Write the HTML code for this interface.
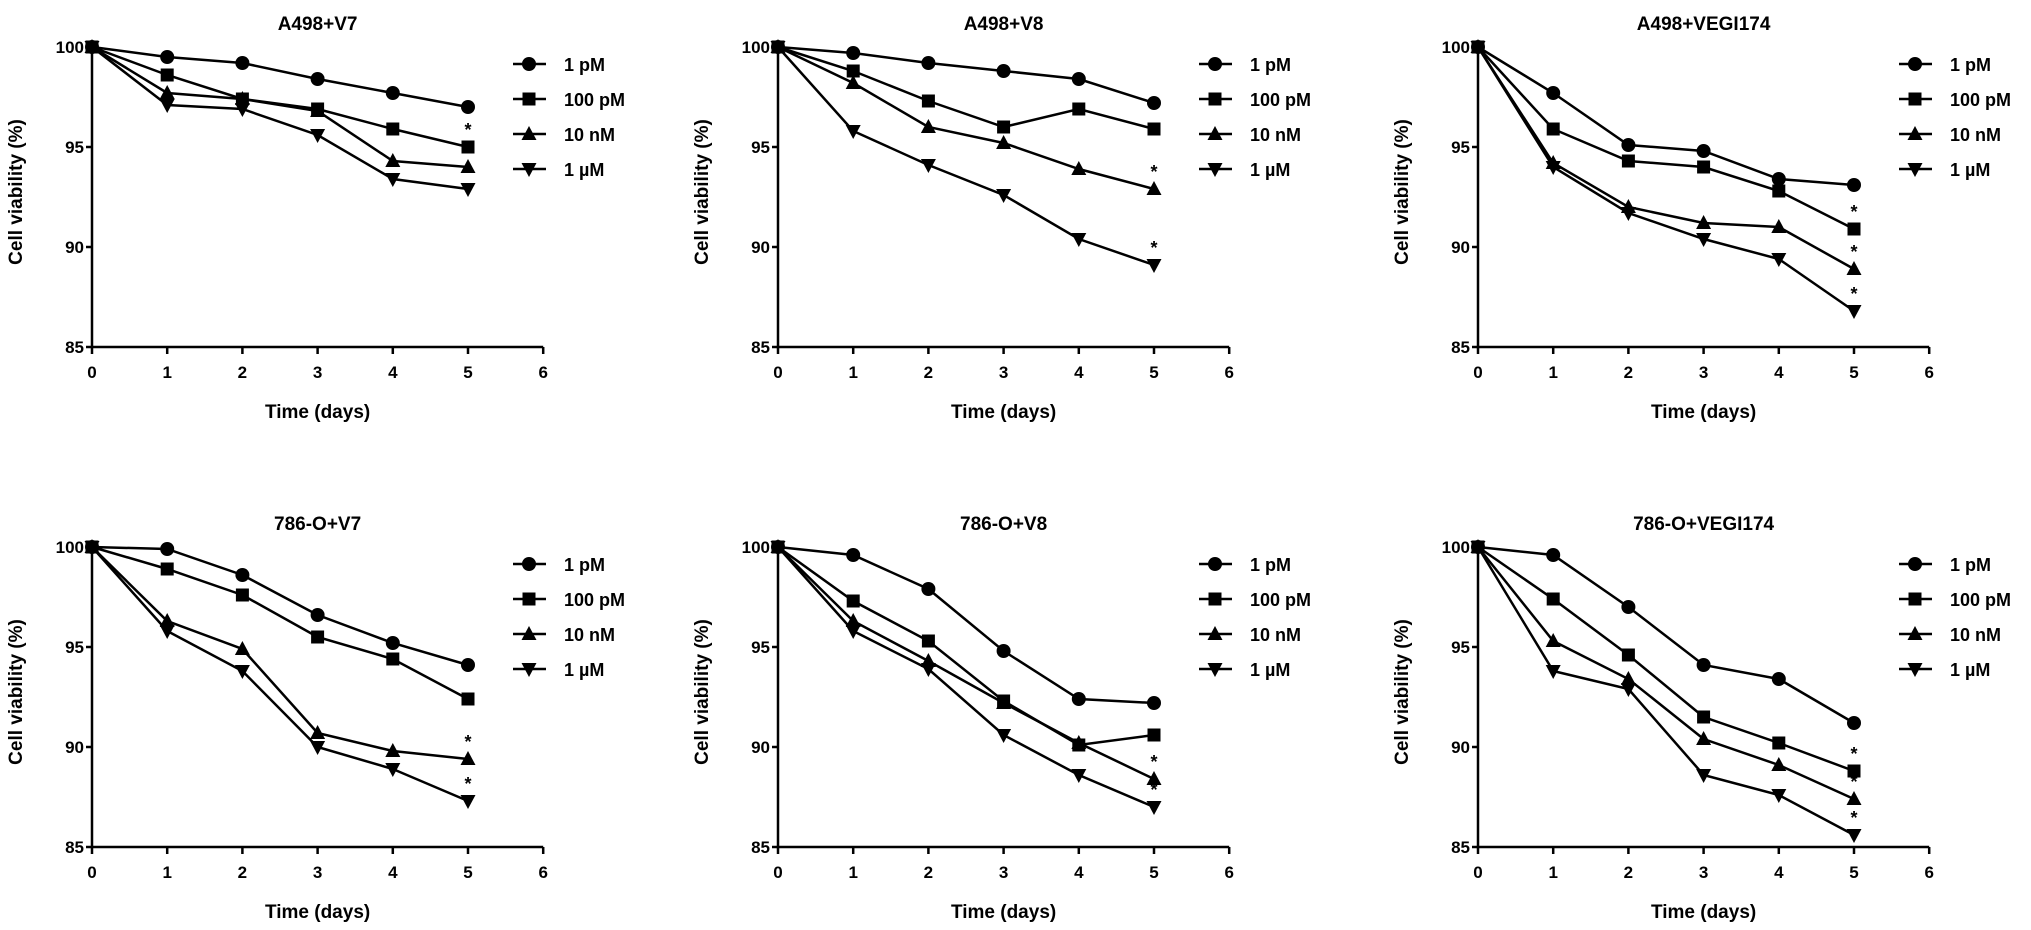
<!DOCTYPE html>
<html><head><meta charset="utf-8"><style>
html,body{margin:0;padding:0;background:#fff;}
svg{display:block;font-family:"Liberation Sans",Arial,sans-serif;font-weight:bold;}
</style></head><body>
<svg id="chart" width="2031" height="930" viewBox="0 0 2031 930" xmlns="http://www.w3.org/2000/svg"></svg>
<script>
const panelTitles = ["A498+V7","A498+V8","A498+VEGI174","786-O+V7","786-O+V8","786-O+VEGI174"];
const days = [0,1,2,3,4,5];
const seriesNames = ["1 pM","100 pM","10 nM","1 \u00b5M"];
const xTicks = [0,1,2,3,4,5,6];
const yTicks = [85,90,95,100];
const p1 = [[100,99.5,99.2,98.4,97.7,97.0],[100,98.6,97.4,96.9,95.9,95.0],[100,97.7,97.4,96.8,94.3,94.0],[100,97.1,96.9,95.6,93.4,92.9]];
const p2 = [[100,99.7,99.2,98.8,98.4,97.2],[100,98.8,97.3,96.0,96.9,95.9],[100,98.2,96.0,95.2,93.9,92.9],[100,95.8,94.1,92.6,90.4,89.1]];
const p3 = [[100,97.7,95.1,94.8,93.4,93.1],[100,95.9,94.3,94.0,92.8,90.9],[100,94.2,92.0,91.2,91.0,88.9],[100,94.0,91.7,90.4,89.4,86.8]];
const p4 = [[100,99.9,98.6,96.6,95.2,94.1],[100,98.9,97.6,95.5,94.4,92.4],[100,96.3,94.9,90.7,89.8,89.4],[100,95.8,93.8,90.0,88.9,87.3]];
const p5 = [[100,99.6,97.9,94.8,92.4,92.2],[100,97.3,95.3,92.3,90.1,90.6],[100,96.3,94.3,92.2,90.2,88.4],[100,95.8,93.9,90.6,88.6,87.0]];
const p6 = [[100,99.6,97.0,94.1,93.4,91.2],[100,97.4,94.6,91.5,90.2,88.8],[100,95.3,93.4,90.4,89.1,87.4],[100,93.8,92.9,88.6,87.6,85.6]];
const panelData = [p1,p2,p3,p4,p5,p6];
const starFlags = [[0,1,1,1],[0,0,1,1],[0,1,1,1],[0,0,1,1],[0,0,1,1],[0,1,1,1]];

const NS="http://www.w3.org/2000/svg";
const svg=document.getElementById('chart');
function mk(tag,attrs,parent){const e=document.createElementNS(NS,tag);for(const k in attrs)e.setAttribute(k,attrs[k]);(parent||svg).appendChild(e);return e;}
function marker(g,type,cx,cy){
  let e;
  if(type===0) e=mk('circle',{cx:cx,cy:cy,r:7,fill:'#000'},g);
  else if(type===1) e=mk('rect',{x:cx-6.5,y:cy-6.5,width:13,height:13,fill:'#000'},g);
  else if(type===2) e=mk('polygon',{points:`${cx},${cy-8} ${cx-7.5},${cy+6} ${cx+7.5},${cy+6}`,fill:'#000'},g);
  else e=mk('polygon',{points:`${cx},${cy+8} ${cx-7.5},${cy-6} ${cx+7.5},${cy-6}`,fill:'#000'},g);
  return e;
}
const axisXs=[92,778,1478];
const topYs=[47,547];
panelData.forEach((data,pi)=>{
  const ax=axisXs[pi%3], y100=topYs[Math.floor(pi/3)], yb=y100+300;
  const xs=v=>ax+v*75.2, ys=v=>y100+(100-v)*20;
  const g=mk('g',{});
  
  
  const t=mk('text',{x:xs(3),y:y100-17,'text-anchor':'middle','font-size':19},g);
  t.textContent=panelTitles[pi];
  
  
  const yl=mk('path',{d:`M${ax},${y100} V${yb} H${xs(6)}`,stroke:'#000','stroke-width':2.5,fill:'none'},g);
  
  
  yTicks.forEach(v=>{
    mk('line',{x1:ax-6,x2:ax,y1:ys(v),y2:ys(v),stroke:'#000','stroke-width':2.5},g);
    const tl=mk('text',{x:ax-8,y:ys(v)+6,'text-anchor':'end','font-size':17},g);
    tl.textContent=v;
    
    
  });
  xTicks.forEach(v=>{
    mk('line',{x1:xs(v),x2:xs(v),y1:yb,y2:yb+7,stroke:'#000','stroke-width':2.5},g);
    const tl=mk('text',{x:xs(v),y:yb+31,'text-anchor':'middle','font-size':17},g);
    tl.textContent=v;
    
    
  });
  const xt=mk('text',{x:xs(3),y:yb+71,'text-anchor':'middle','font-size':19},g);
  xt.textContent='Time (days)';
  
  
  const cy=(y100+yb)/2-5;
  const yt=mk('text',{x:ax-70,y:cy,'text-anchor':'middle','font-size':19,transform:`rotate(-90 ${ax-70} ${cy})`},g);
  yt.textContent='Cell viability (%)';
  
  
  data.forEach((ser,si)=>{
    const sg=mk('g',{},g);
    
    
    mk('polyline',{points:ser.map((v,i)=>xs(days[i])+','+ys(v)).join(' '),fill:'none',stroke:'#000','stroke-width':2.5},sg);
    ser.forEach((v,i)=>{const m=marker(sg,si,xs(days[i]),ys(v));
      
      });
    if(starFlags[pi][si]){
      const st=mk('text',{x:xs(5),y:ys(ser[5])-11,'text-anchor':'middle','font-size':18},sg);
      st.textContent='*';
      
      
    }
    const ly=y100+17+si*35, lx=ax+437;
    const lg=mk('g',{},g);
    
    
    mk('line',{x1:lx-16,x2:lx+17,y1:ly,y2:ly,stroke:'#000','stroke-width':2.5},lg);
    marker(lg,si,lx,ly);
    const lt=mk('text',{x:lx+35,y:ly+7,'font-size':18},lg);
    lt.textContent=seriesNames[si];
  });
});
</script>
</body></html>
